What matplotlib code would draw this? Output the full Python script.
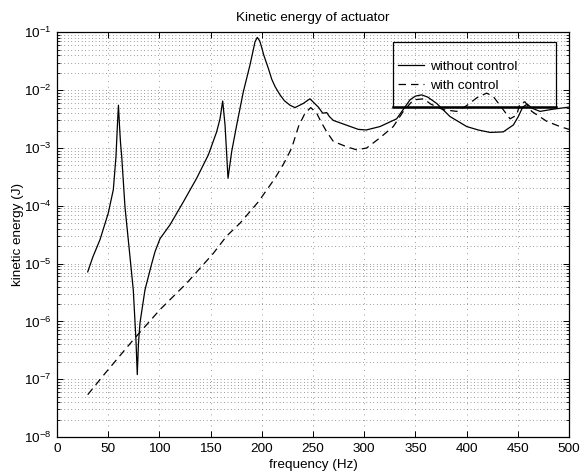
import numpy as np
import matplotlib
matplotlib.use("Agg")
import matplotlib.pyplot as plt
from matplotlib.patches import Rectangle
from matplotlib.ticker import LogLocator, NullLocator, NullFormatter

plt.rcParams['font.family'] = ['Liberation Sans', 'DejaVu Sans']
plt.rcParams['font.size'] = 9.7
plt.rcParams['mathtext.fontset'] = 'custom'
plt.rcParams['mathtext.rm'] = 'Liberation Sans'
plt.rcParams['mathtext.it'] = 'Liberation Sans:italic'
plt.rcParams['mathtext.bf'] = 'Liberation Sans:bold'

# without control (solid)
f_off = [30, 35, 42, 50, 55, 57.6, 59, 60, 61, 62, 63.2, 66.4, 71.3, 74.5, 77.1, 78.4,
         79.5, 81, 85.9, 92.5, 95.7, 100.6, 110.4, 123.4, 136.4, 147.8, 155.9, 159.2,
         161.8, 164.1, 167, 170.6, 175.5, 181.9, 188.5, 193.4, 195.6, 198, 200, 202,
         204.6, 206.5, 209.7, 213, 217.8, 222, 227.5, 232.4, 240.5, 247, 255.2, 259.5,
         263.4, 266, 269.9, 279.6,
         294.3, 302, 315.4, 331.7, 344.7, 350, 356.1, 362, 370.8, 383.8, 400.1, 411.4,
         422.9, 435.8, 445.6, 450.5, 454.8, 459.3, 463.6, 471.7, 484.7, 500]
e_off = [7.2e-6, 1.3e-5, 2.6e-5, 7.4e-5, 1.9e-4, 7.1e-4, 2.5e-3, 5.5e-3, 2.5e-3, 1.25e-3,
         7.1e-4, 9.5e-5, 1.3e-5, 3.5e-6, 4.8e-7, 1.2e-7,
         4.0e-7, 9.3e-7, 3.5e-6, 1.0e-5, 1.6e-5, 2.7e-5, 4.7e-5, 1.17e-4, 3.0e-4, 7.6e-4,
         1.9e-3, 3.2e-3,
         6.5e-3, 2.5e-3, 3.0e-4, 8.7e-4, 2.5e-3, 9.3e-3, 2.75e-2, 6.9e-2, 8.2e-2, 7.1e-2,
         5.4e-2, 4.0e-2,
         2.95e-2, 2.35e-2, 1.55e-2, 1.15e-2, 8.3e-3, 6.6e-3, 5.5e-3, 5.0e-3, 5.9e-3, 7.1e-3,
         5.1e-3, 4.0e-3,
         4.1e-3, 3.5e-3, 3.0e-3, 2.6e-3,
         2.1e-3, 2.05e-3, 2.35e-3, 3.2e-3, 6.8e-3, 7.9e-3, 8.3e-3, 7.6e-3, 5.9e-3, 3.5e-3,
         2.35e-3, 2.05e-3,
         1.86e-3, 1.9e-3, 2.5e-3, 3.5e-3, 5.1e-3, 5.75e-3, 4.9e-3, 4.3e-3, 4.7e-3, 5.1e-3]

# with control (dashed)
f_on = [30, 46.9, 74.5, 100.6, 126.7, 152.6, 165.7, 178.7, 196.6, 212.9, 222, 229.2, 236,
        242.2, 247.8, 253.6, 258, 263.4, 269.9, 282.9, 292.7, 302.4, 315.4, 328.4, 338.2,
        348, 358, 365, 377.3, 390.3, 400, 410, 419.6, 426, 435.8, 442.4, 448.9, 452.1,
        457, 463.6, 478.2, 491.2, 500]
e_on = [5.4e-8, 1.26e-7, 4.8e-7, 1.6e-6, 4.6e-6, 1.5e-5, 3.0e-5, 5.0e-5, 1.17e-4, 3.0e-4,
        5.6e-4, 1.0e-3, 2.4e-3,
        4.0e-3, 5.0e-3, 4.0e-3, 2.8e-3, 1.9e-3, 1.3e-3, 1.05e-3, 9.3e-4, 1.0e-3, 1.5e-3,
        2.35e-3, 4.3e-3,
        6.8e-3, 7.1e-3, 5.75e-3, 4.6e-3, 4.3e-3, 5.4e-3, 7.4e-3, 8.9e-3, 7.8e-3, 4.6e-3,
        3.2e-3, 3.7e-3, 5.9e-3,
        6.3e-3, 4.3e-3, 2.9e-3, 2.35e-3, 2.1e-3]

fig = plt.figure(figsize=(5.81, 4.73), dpi=100)
ax = fig.add_axes([57 / 581, 36 / 473, 512 / 581, 404.6 / 473])

ax.plot(f_off, e_off, color='k', lw=0.9, label='without control')
ax.plot(f_on, e_on, color='k', lw=0.9, dashes=(6, 4), label='with control')

ax.set_yscale('log')
ax.set_xlim(0, 500)
ax.set_ylim(1e-8, 1e-1)
ax.set_xticks(np.arange(0, 501, 50))
ax.xaxis.set_minor_locator(NullLocator())
ax.yaxis.set_major_locator(LogLocator(base=10, numticks=20))
ax.yaxis.set_minor_locator(LogLocator(base=10, subs=np.arange(2, 10), numticks=100))
ax.yaxis.set_minor_formatter(NullFormatter())

ax.grid(True, which='major', axis='x', color='0.25', lw=0.5, linestyle=(0, (1, 7)))
ax.grid(True, which='both', axis='y', color='0.25', lw=0.5, linestyle=(0, (1, 4)))

ax.tick_params(which='both', direction='in', top=True, right=True, colors='k')
ax.tick_params(which='major', length=4, width=0.7, pad=4)
ax.tick_params(which='minor', length=2.2, width=0.6)
for s in ax.spines.values():
    s.set_linewidth(0.9)

ax.set_title('Kinetic energy of actuator', fontsize=9.7, pad=8)
ax.set_xlabel('frequency (Hz)', labelpad=3.5)
ax.set_ylabel('kinetic energy (J)')
ax.yaxis.set_label_coords(-0.0645, 0.5)

ax.legend(loc='center left', bbox_to_anchor=(0.666, 0.892), frameon=False,
          handlelength=1.9, handletextpad=0.45, labelspacing=0.45,
          borderpad=0, borderaxespad=0)
ax.add_patch(Rectangle((0.656, 0.815), 0.319, 0.1605, transform=ax.transAxes,
                       fill=False, ec='k', lw=0.9, zorder=5))
ax.plot([0.656, 0.975], [0.815, 0.815], transform=ax.transAxes, color='k', lw=1.8,
        zorder=5)

fig.savefig('out.png', dpi=100)
